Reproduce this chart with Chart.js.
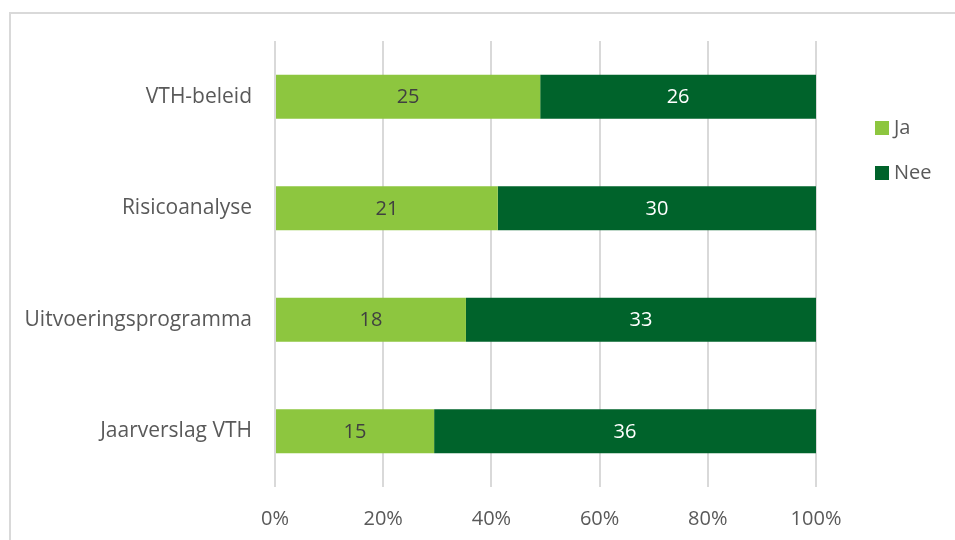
<!DOCTYPE html>
<html>
<head>
<meta charset="utf-8">
<script src="https://cdn.jsdelivr.net/npm/chart.js@4/dist/chart.umd.min.js"></script>
<style>
  html, body { margin: 0; padding: 0; background: #ffffff; }
  #wrap { position: relative; width: 955px; height: 540px; overflow: hidden; }
  #frame { position: absolute; left: 9px; top: 12px; width: 1000px; height: 600px;
           border-left: 2px solid #d9d9d9; border-top: 2px solid #d9d9d9; box-sizing: border-box; }
  #c { position: absolute; left: 0; top: 0; }
</style>
</head>
<body>
<div id="wrap">
  <div id="frame"></div>
  <canvas id="c" width="955" height="540"></canvas>
</div>
<script>
// ---- data ----
const categories = ['VTH-beleid', 'Risicoanalyse', 'Uitvoeringsprogramma', 'Jaarverslag VTH'];
const jaCounts  = [25, 21, 18, 15];
const neeCounts = [26, 30, 33, 36];
const seriesNames = ['Ja', 'Nee'];
const xTicks = [0, 20, 40, 60, 80, 100];

const totals = categories.map((_, i) => jaCounts[i] + neeCounts[i]);
const jaPct  = jaCounts.map((v, i) => v / totals[i] * 100);
const neePct = neeCounts.map((v, i) => v / totals[i] * 100);

const FONT = '"Open Sans", "DejaVu Sans", sans-serif';
const TEXT = '#595959';

const dataLabels = {
  id: 'dataLabels',
  afterDatasetsDraw(chart) {
    const ctx = chart.ctx;
    const raw = [jaCounts, neeCounts];
    const colors = ['#404040', '#ffffff'];
    ctx.save();
    ctx.font = '20px ' + FONT;
    ctx.textAlign = 'center';
    ctx.textBaseline = 'middle';
    chart.data.datasets.forEach((ds, di) => {
      const meta = chart.getDatasetMeta(di);
      meta.data.forEach((el, i) => {
        const p = el.getCenterPoint();
        ctx.fillStyle = colors[di];
        ctx.fillText(String(raw[di][i]), p.x, p.y + 1);
      });
    });
    ctx.restore();
  }
};

const sideLegend = {
  id: 'sideLegend',
  afterDraw(chart) {
    const ctx = chart.ctx;
    const items = Chart.defaults.plugins.legend.labels.generateLabels(chart);
    ctx.save();
    ctx.font = '20px ' + FONT;
    ctx.textBaseline = 'middle';
    ctx.textAlign = 'left';
    items.forEach((it, k) => {
      const y = 128 + k * 45;
      ctx.fillStyle = it.fillStyle;
      ctx.fillRect(875, y - 7, 14, 14);
      ctx.fillStyle = TEXT;
      ctx.fillText(it.text, 894, y);
    });
    ctx.restore();
  }
};

new Chart(document.getElementById('c'), {
  type: 'bar',
  data: {
    labels: categories,
    datasets: [
      { label: seriesNames[0], data: jaPct, backgroundColor: '#8DC63F', borderWidth: 0 },
      { label: seriesNames[1], data: neePct, backgroundColor: '#00632B', borderWidth: 0 }
    ]
  },
  options: {
    indexAxis: 'y',
    responsive: false,
    animation: false,
    devicePixelRatio: 1,
    layout: { padding: { left: 10, right: 139, top: 41, bottom: 0 } },
    datasets: { bar: { barPercentage: 1, categoryPercentage: 0.395 } },
    plugins: {
      legend: { display: false },
      tooltip: { enabled: false }
    },
    scales: {
      x: {
        stacked: true,
        min: 0, max: 100,
        afterBuildTicks(scale) { scale.ticks = xTicks.map(v => ({ value: v })); },
        afterFit(scale) { scale.height = 53; },
        grid: { color: '#d9d9d9', lineWidth: 2, drawTicks: false },
        border: { display: false },
        ticks: {
          padding: 20,
          color: TEXT,
          font: { family: FONT, size: 20 },
          callback: v => v + '%'
        }
      },
      y: {
        stacked: true,
        afterFit(scale) { scale.width = 265; },
        grid: { display: false, drawTicks: false },
        border: { display: false },
        ticks: {
          padding: 23,
          color: TEXT,
          font: { family: FONT, size: 21 }
        }
      }
    }
  },
  plugins: [dataLabels, sideLegend]
});
</script>
</body>
</html>
